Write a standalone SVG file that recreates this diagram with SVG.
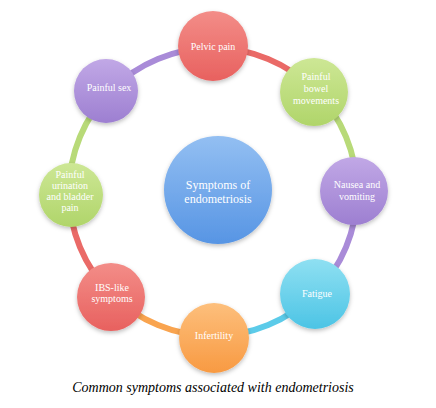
<svg xmlns="http://www.w3.org/2000/svg" width="436" height="408" viewBox="0 0 436 408">
<defs>
<linearGradient id="gRed" x1="0" y1="0" x2="0" y2="1"><stop offset="0" stop-color="#f38d88"/><stop offset="1" stop-color="#e8615f"/></linearGradient>
<linearGradient id="gGreen" x1="0" y1="0" x2="0" y2="1"><stop offset="0" stop-color="#cde795"/><stop offset="1" stop-color="#b0d56a"/></linearGradient>
<linearGradient id="gPurple" x1="0" y1="0" x2="0" y2="1"><stop offset="0" stop-color="#c1a8e6"/><stop offset="1" stop-color="#9d7fd1"/></linearGradient>
<linearGradient id="gCyan" x1="0" y1="0" x2="0" y2="1"><stop offset="0" stop-color="#8fe0f2"/><stop offset="1" stop-color="#4cc4e5"/></linearGradient>
<linearGradient id="gOrange" x1="0" y1="0" x2="0" y2="1"><stop offset="0" stop-color="#fdbf7c"/><stop offset="1" stop-color="#f89a42"/></linearGradient>
<linearGradient id="gBlue" x1="0" y1="0" x2="0" y2="1"><stop offset="0" stop-color="#93bff2"/><stop offset="1" stop-color="#5795e4"/></linearGradient>
<filter id="sh" x="-30%" y="-30%" width="160%" height="170%"><feDropShadow dx="0" dy="2" stdDeviation="2" flood-color="#000" flood-opacity="0.25"/></filter>
</defs>
<style>
.arc{fill:none;stroke-width:6;}
.node{filter:url(#sh);}
.t{font-family:"Liberation Serif","Times New Roman",serif;font-size:10px;fill:#ffffff;text-anchor:middle;}
.tc{font-family:"Liberation Serif","Times New Roman",serif;font-size:12px;fill:#ffffff;text-anchor:middle;}
.cap{font-family:"Liberation Serif","Times New Roman",serif;font-size:14px;font-style:italic;fill:#000;text-anchor:middle;}
</style>
<rect width="436" height="408" fill="#ffffff"/>
<g id="connectors">
<path class="arc" stroke="#ea6a67" d="M213 48 A144 144 0 0 1 314.82 90.18"/>
<path class="arc" stroke="#b8da78" d="M314.82 90.18 A144 144 0 0 1 357 192"/>
<path class="arc" stroke="#a98bd8" d="M357 192 A144 144 0 0 1 314.82 293.82"/>
<path class="arc" stroke="#5ccbe9" d="M314.82 293.82 A144 144 0 0 1 213 336"/>
<path class="arc" stroke="#f9a44f" d="M213 336 A144 144 0 0 1 111.18 293.82"/>
<path class="arc" stroke="#ea6a67" d="M111.18 293.82 A144 144 0 0 1 69 192"/>
<path class="arc" stroke="#b8da78" d="M69 192 A144 144 0 0 1 111.18 90.18"/>
<path class="arc" stroke="#a98bd8" d="M111.18 90.18 A144 144 0 0 1 213 48"/>
</g>
<g id="center">
<circle class="node" cx="218" cy="190" r="54" fill="url(#gBlue)"/>
<text class="tc" x="218" y="189">Symptoms of</text>
<text class="tc" x="218" y="203">endometriosis</text>
</g>
<g id="pelvic-pain">
<circle class="node" cx="213" cy="46" r="35" fill="url(#gRed)"/>
<text class="t" x="213" y="50">Pelvic pain</text>
</g>
<g id="painful-bowel">
<circle class="node" cx="314" cy="92" r="34" fill="url(#gGreen)"/>
<text class="t" x="316" y="80">Painful</text>
<text class="t" x="316" y="92">bowel</text>
<text class="t" x="316" y="104">movements</text>
</g>
<g id="nausea">
<circle class="node" cx="354" cy="191" r="34" fill="url(#gPurple)"/>
<text class="t" x="357" y="188">Nausea and</text>
<text class="t" x="357" y="200">vomiting</text>
</g>
<g id="fatigue">
<circle class="node" cx="315" cy="294" r="35" fill="url(#gCyan)"/>
<text class="t" x="317" y="297">Fatigue</text>
</g>
<g id="infertility">
<circle class="node" cx="214" cy="338" r="35" fill="url(#gOrange)"/>
<text class="t" x="214" y="339">Infertility</text>
</g>
<g id="ibs">
<circle class="node" cx="111" cy="297" r="34" fill="url(#gRed)"/>
<text class="t" x="112" y="291">IBS-like</text>
<text class="t" x="112" y="302">symptoms</text>
</g>
<g id="urination">
<circle class="node" cx="71" cy="195" r="32" fill="url(#gGreen)"/>
<text class="t" x="70" y="178">Painful</text>
<text class="t" x="70" y="189">urination</text>
<text class="t" x="70" y="200">and bladder</text>
<text class="t" x="70" y="211">pain</text>
</g>
<g id="painful-sex">
<circle class="node" cx="106" cy="91" r="32" fill="url(#gPurple)"/>
<text class="t" x="109" y="91">Painful sex</text>
</g>
<text class="cap" x="213" y="392">Common symptoms associated with endometriosis</text>
</svg>
